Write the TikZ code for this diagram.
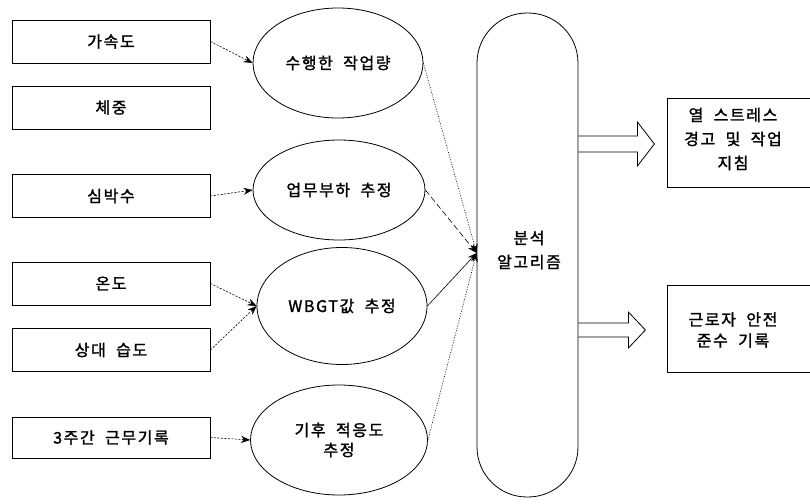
\documentclass[tikz,border=0pt]{standalone}
\usepackage{fontspec}
\setmainfont{Noto Sans CJK KR}[LetterSpace=10, FakeBold=1.6, WordSpace=2]
\usetikzlibrary{arrows.meta,shapes.geometric}
\begin{document}
\begin{tikzpicture}[x=1pt,y=-1pt,
  every node/.style={font=\fontsize{16}{20}\selectfont},
  inbox/.style={draw, line width=0.8pt, minimum width=198pt, minimum height=43pt, inner sep=0pt},
  est/.style={draw, ellipse, line width=0.8pt, inner sep=0pt, align=center},
  feed/.style={line width=0.6pt, dash pattern=on 2pt off 1.5pt, -{Stealth[length=9pt,width=7pt]}},
  tohub/.style={line width=0.6pt, -{Stealth[length=9pt,width=7pt]}},
  blockarr/.style={line width=0.8pt, line join=miter}]
\useasboundingbox (0,0) rectangle (810,503);
% input boxes
\node[inbox] (b1) at (111,41.5) {가속도};
\node[inbox] (b2) at (111,107.5) {체중};
\node[inbox] (b3) at (111,196) {심박수};
\node[inbox] (b4) at (111,283.5) {온도};
\node[inbox] (b5) at (111,350) {상대 습도};
\node[inbox, minimum height=41pt] (b6) at (111,437.5) {3주간 근무기록};
% ellipses
\node[est, minimum width=170pt, minimum height=110pt] (e1) at (338,63) {수행한 작업량};
\node[est, minimum width=172pt, minimum height=100pt] (e2) at (339,190) {업무부하 추정};
\node[est, minimum width=170pt, minimum height=117pt] (e3) at (342,306) {WBGT값 추정};
\node[est, minimum width=177pt, minimum height=110pt, font=\fontsize{16}{20}\selectfont] (e4) at (339,440) {기후 적응도\\추정};
% analysis pill
\node[draw, line width=0.8pt, minimum width=101pt, minimum height=484pt, rounded corners=50pt] (pill) at (527.5,255) {};
\node[align=center, font=\fontsize{16}{24}\selectfont] (alg) at (529,250) {분석\\알고리즘};
\coordinate (hub) at (pill.west |- 0,253);
% outputs
\node[align=center, font=\fontsize{16}{24}\selectfont] (o1) at (733,139) {열 스트레스\\경고 및 작업\\지침};
\node[align=center, font=\fontsize{16}{21}\selectfont] (o2) at (733,330) {근로자 안전\\준수 기록};
\draw[line width=0.8pt] (815,98) -| (667,187) -- (815,187);
\draw[line width=0.8pt] (815,285) -| (667,372) -- (815,372);
% input arrows
\draw[feed] (b1.east) -- (e1.west);
\draw[feed] (b3.east) -- (e2.west);
\draw[feed] (b4.east) -- (e3.west);
\draw[feed] (b5.east) -- (e3.west);
\draw[feed] (b6.east) -- (e4.west);
% to analysis
\draw[tohub, dash pattern=on 1pt off 1.5pt] (e1.east) -- (hub);
\draw[tohub, dash pattern=on 6pt off 3pt] (e2.east) -- (hub);
\draw[tohub] (e3.east) -- (hub);
\draw[tohub, dash pattern=on 1pt off 1.5pt] (e4.east) -- (hub);
% block arrows
\coordinate (a1) at (pill.east |- 0,144);
\coordinate (a2) at (pill.east |- 0,330);
\draw[blockarr] (a1) ++(0,-8) -- ++(59,0) -- ++(0,-14) -- ++(17,22) -- ++(-17,22) -- ++(0,-14) -- ++(-59,0);
\draw[blockarr] (a2) ++(0,-7) -- ++(50,0) -- ++(0,-11) -- ++(17,18) -- ++(-17,18) -- ++(0,-11) -- ++(-50,0);
\end{tikzpicture}
\end{document}
